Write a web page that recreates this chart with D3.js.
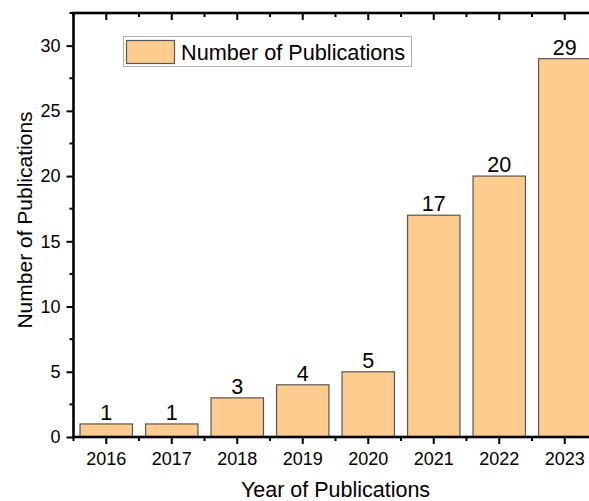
<!DOCTYPE html>
<html>
<head>
<meta charset="utf-8">
<script src="https://cdn.jsdelivr.net/npm/d3@7"></script>
<style>
  html, body { margin: 0; padding: 0; background: #fff; }
  svg { display: block; }
  text { font-family: Arial, "Liberation Sans", sans-serif; fill: #000; }
</style>
</head>
<body>
<svg id="chart" width="589" height="501"></svg>
<script>
const years = ["2016", "2017", "2018", "2019", "2020", "2021", "2022", "2023"];
const publications = [1, 1, 3, 4, 5, 17, 20, 29];
const yTicks = [0, 5, 10, 15, 20, 25, 30];
const yMinorTicks = [2.5, 7.5, 12.5, 17.5, 22.5, 27.5, 32.5];
const seriesName = "Number of Publications";
const xTitle = "Year of Publications";
const yTitle = "Number of Publications";

(function () {
const svg = d3.select("#chart");
const pLeft = 73.5, pRight = 597.5, pTop = 13, pBottom = 437;

const x = d3.scaleBand().domain(years).range([pLeft, pRight]).paddingInner(0.2).paddingOuter(0.1);
const y = d3.scaleLinear().domain([0, 32.5]).range([pBottom, pTop]);

const fill = "#FFCC90", barStroke = "#555";
const fontFam = "Arial, 'Liberation Sans', sans-serif";

// bars
svg.append("g").selectAll("rect").data(years).join("rect")
  .attr("x", d => x(d))
  .attr("y", (d, i) => y(publications[i]))
  .attr("width", x.bandwidth())
  .attr("height", (d, i) => y(0) - y(publications[i]))
  .attr("fill", fill)
  .attr("stroke", barStroke)
  .attr("stroke-width", 1.2);

// value labels
svg.append("g").selectAll("text").data(years).join("text")
  .attr("x", d => x(d) + x.bandwidth() / 2)
  .attr("y", (d, i) => y(publications[i]) - 4)
  .attr("text-anchor", "middle")
  .attr("font-size", 21.5)
  .text((d, i) => publications[i]);

const step = x.step();
const xMinor = years.map(d => x(d) + x.bandwidth() / 2 - step / 2)
  .concat([x(years[years.length - 1]) + x.bandwidth() / 2 + step / 2]);

const axisG = svg.append("g");
// bottom axis
const gb = axisG.append("g").attr("transform", `translate(0,${pBottom})`)
  .call(d3.axisBottom(x).tickSize(7).tickPadding(10).tickSizeOuter(0));
gb.select(".domain").remove();
gb.selectAll(".tick line").attr("stroke", "#000").attr("stroke-width", 2);
gb.selectAll(".tick text").attr("font-size", 18).attr("font-family", fontFam).attr("y", 15.5);
axisG.append("g").selectAll("line").data(xMinor).join("line")
  .attr("x1", d => d).attr("x2", d => d)
  .attr("y1", pBottom).attr("y2", pBottom + 4)
  .attr("stroke", "#000").attr("stroke-width", 2);

// top axis (ticks inward)
const gt = axisG.append("g").attr("transform", `translate(0,${pTop})`)
  .call(d3.axisTop(x).tickSize(-7).tickSizeOuter(0).tickFormat(""));
gt.select(".domain").remove();
gt.selectAll(".tick line").attr("stroke", "#000").attr("stroke-width", 2);
axisG.append("g").selectAll("line").data(xMinor).join("line")
  .attr("x1", d => d).attr("x2", d => d)
  .attr("y1", pTop).attr("y2", pTop + 4)
  .attr("stroke", "#000").attr("stroke-width", 2);

// left axis
const gl = axisG.append("g").attr("transform", `translate(${pLeft},0)`)
  .call(d3.axisLeft(y).tickValues(yTicks).tickSize(7).tickPadding(6).tickSizeOuter(0));
gl.select(".domain").remove();
gl.selectAll(".tick line").attr("stroke", "#000").attr("stroke-width", 2);
gl.selectAll(".tick text").attr("font-size", 18).attr("font-family", fontFam);
axisG.append("g").selectAll("line").data(yMinorTicks).join("line")
  .attr("x1", pLeft - 4).attr("x2", pLeft)
  .attr("y1", d => y(d)).attr("y2", d => y(d))
  .attr("stroke", "#000").attr("stroke-width", 2);

// right axis (ticks inward)
const gr = axisG.append("g").attr("transform", `translate(${pRight},0)`)
  .call(d3.axisRight(y).tickValues(yTicks).tickSize(-7).tickSizeOuter(0).tickFormat(""));
gr.select(".domain").remove();
gr.selectAll(".tick line").attr("stroke", "#000").attr("stroke-width", 2);

// frame
axisG.append("rect")
  .attr("x", pLeft).attr("y", pTop)
  .attr("width", pRight - pLeft).attr("height", pBottom - pTop)
  .attr("fill", "none").attr("stroke", "#000").attr("stroke-width", 2.6);

// axis titles
svg.append("text")
  .attr("x", (pLeft + pRight) / 2).attr("y", 497)
  .attr("text-anchor", "middle").attr("font-size", 21.5)
  .text(xTitle);
svg.append("text")
  .attr("transform", `translate(31.5,220) rotate(-90)`)
  .attr("text-anchor", "middle").attr("font-size", 21)
  .text(yTitle);

// legend
const lg = svg.append("g");
lg.append("rect").attr("x", 123.5).attr("y", 36.5).attr("width", 288).attr("height", 30)
  .attr("fill", "#fff").attr("stroke", "#b0b0b0").attr("stroke-width", 1);
lg.append("rect").attr("x", 126.5).attr("y", 40.5).attr("width", 48).attr("height", 23)
  .attr("fill", fill).attr("stroke", barStroke).attr("stroke-width", 1.2);
lg.append("text").attr("x", 181).attr("y", 59.5).attr("font-size", 21.7)
  .text(seriesName);
})();
</script>
</body>
</html>
